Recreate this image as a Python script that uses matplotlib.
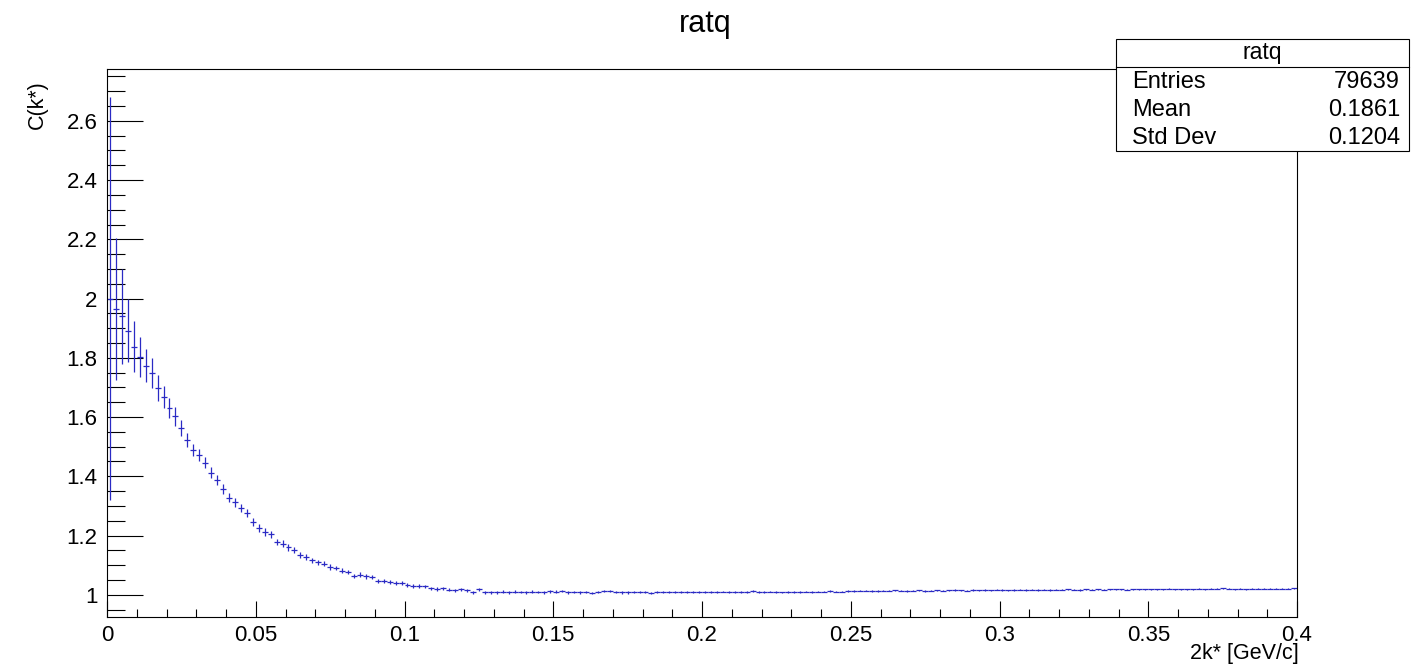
import numpy as np
import matplotlib
matplotlib.use('Agg')
import matplotlib.pyplot as plt
from matplotlib.patches import Rectangle
from matplotlib.lines import Line2D

#histogram ratq, 200 bins from 0 to 0.4
nbins = 200
kmin = 0.0
kmax = 0.4

ratq = [
	2.000, 1.965, 1.940, 1.892, 1.837, 1.803, 1.774, 1.749, 1.698, 1.667,
	1.630, 1.602, 1.563, 1.523, 1.488, 1.473, 1.446, 1.412, 1.388, 1.357,
	1.328, 1.312, 1.293, 1.276, 1.245, 1.225, 1.212, 1.204, 1.179, 1.173,
	1.160, 1.152, 1.135, 1.127, 1.116, 1.110, 1.105, 1.094, 1.090, 1.081,
	1.077, 1.064, 1.068, 1.062, 1.059, 1.047, 1.046, 1.044, 1.040, 1.040,
	1.033, 1.030, 1.030, 1.028, 1.022, 1.020, 1.022, 1.017, 1.015, 1.019,
	1.015, 1.009, 1.019, 1.009, 1.009, 1.009, 1.010, 1.008, 1.011, 1.009,
	1.008, 1.010, 1.009, 1.008, 1.012, 1.011, 1.012, 1.008, 1.009, 1.008,
	1.009, 1.007, 1.010, 1.012, 1.012, 1.009, 1.008, 1.008, 1.009, 1.008,
	1.008, 1.007, 1.008, 1.009, 1.008, 1.008, 1.009, 1.008, 1.010, 1.009,
	1.010, 1.009, 1.008, 1.011, 1.009, 1.010, 1.008, 1.010, 1.014, 1.010,
	1.009, 1.011, 1.010, 1.008, 1.010, 1.010, 1.010, 1.011, 1.010, 1.011,
	1.011, 1.012, 1.011, 1.011, 1.013, 1.013, 1.014, 1.014, 1.013, 1.012,
	1.014, 1.014, 1.015, 1.014, 1.013, 1.014, 1.015, 1.013, 1.014, 1.015,
	1.014, 1.015, 1.016, 1.015, 1.014, 1.016, 1.015, 1.016, 1.015, 1.017,
	1.016, 1.015, 1.016, 1.017, 1.016, 1.017, 1.016, 1.017, 1.016, 1.017,
	1.017, 1.018, 1.017, 1.016, 1.018, 1.017, 1.018, 1.017, 1.018, 1.019,
	1.018, 1.017, 1.018, 1.019, 1.018, 1.019, 1.018, 1.019, 1.020, 1.019,
	1.019, 1.018, 1.019, 1.020, 1.019, 1.020, 1.021, 1.022, 1.020, 1.019,
	1.020, 1.019, 1.020, 1.021, 1.020, 1.020, 1.021, 1.020, 1.021, 1.022,
]

ratq_err = [
	0.680, 0.240, 0.160, 0.105, 0.086, 0.067, 0.055, 0.050, 0.043, 0.037,
	0.034, 0.031, 0.026, 0.024, 0.021, 0.020, 0.019, 0.018, 0.017, 0.016,
	0.015, 0.015, 0.014, 0.014, 0.013, 0.013, 0.012, 0.012, 0.011, 0.011,
	0.011, 0.010, 0.010, 0.010, 0.009, 0.009, 0.009, 0.009, 0.008, 0.008,
	0.0080, 0.0078, 0.0076, 0.0074, 0.0072, 0.0070, 0.0069, 0.0067, 0.0066, 0.0064,
	0.0063, 0.0062, 0.0061, 0.0060, 0.0058, 0.0057, 0.0056, 0.0055, 0.0055, 0.0054,
	0.0053, 0.0052, 0.0051, 0.0050, 0.0050, 0.0049, 0.0048, 0.0047, 0.0047, 0.0046,
	0.0045, 0.0045, 0.0044, 0.0044, 0.0043, 0.0043, 0.0042, 0.0041, 0.0041, 0.0040,
	0.0040, 0.0040, 0.0039, 0.0039, 0.0038, 0.0038, 0.0037, 0.0037, 0.0037, 0.0036,
	0.0036, 0.0035, 0.0035, 0.0035, 0.0034, 0.0034, 0.0034, 0.0033, 0.0033, 0.0033,
	0.0032, 0.0032, 0.0032, 0.0031, 0.0031, 0.0031, 0.0031, 0.0030, 0.0030, 0.0030,
	0.0030, 0.0029, 0.0029, 0.0029, 0.0029, 0.0028, 0.0028, 0.0028, 0.0028, 0.0028,
	0.0027, 0.0027, 0.0027, 0.0027, 0.0027, 0.0026, 0.0026, 0.0026, 0.0026, 0.0026,
	0.0026, 0.0025, 0.0025, 0.0025, 0.0025, 0.0025, 0.0025, 0.0024, 0.0024, 0.0024,
	0.0024, 0.0024, 0.0024, 0.0024, 0.0023, 0.0023, 0.0023, 0.0023, 0.0023, 0.0023,
	0.0023, 0.0022, 0.0022, 0.0022, 0.0022, 0.0022, 0.0022, 0.0022, 0.0022, 0.0021,
	0.0021, 0.0021, 0.0021, 0.0021, 0.0021, 0.0021, 0.0021, 0.0021, 0.0020, 0.0020,
	0.0020, 0.0020, 0.0020, 0.0020, 0.0020, 0.0020, 0.0020, 0.0020, 0.0020, 0.0019,
	0.0019, 0.0019, 0.0019, 0.0019, 0.0019, 0.0019, 0.0019, 0.0019, 0.0019, 0.0019,
	0.0018, 0.0018, 0.0018, 0.0018, 0.0018, 0.0018, 0.0018, 0.0018, 0.0018, 0.0018,
]

#stats box text
stats_title = 'ratq'
stats_names = ['Entries', 'Mean', 'Std Dev']
stats_vals = ['79639', '0.1861', '0.1204']

xticks = [0, 0.05, 0.1, 0.15, 0.2, 0.25, 0.3, 0.35, 0.4]
yticks = [1.0, 1.2, 1.4, 1.6, 1.8, 2.0, 2.2, 2.4, 2.6]

plt.rcParams['font.family'] = ['Liberation Sans', 'DejaVu Sans']

W, H = 1411, 668
dpi = 100

def fx(x):
	return x / W

def fy(y):
	return 1. - y / H

edges = np.linspace(kmin, kmax, nbins + 1)
centers = 0.5 * (edges[1:] + edges[:-1])
halfw = 0.5 * (edges[1] - edges[0])

f = plt.figure(figsize=(W / dpi, H / dpi), dpi=dpi)
ax = f.add_axes([fx(107), fy(617), fx(1297) - fx(107), fy(69) - fy(617)])

col = '#2a2ac4'
ax.errorbar(centers, ratq, xerr=halfw, yerr=ratq_err, fmt='none',
			ecolor=col, elinewidth=0.9, capsize=0)

ax.set_xlim(kmin, kmax)
ax.set_ylim(0.925, 2.775)

ax.set_xticks(xticks)
ax.set_xticklabels(['%g' % t for t in xticks])
ax.set_xticks(np.arange(0, 0.4001, 0.01), minor=True)
ax.set_yticks(yticks)
ax.set_yticklabels(['%g' % t for t in yticks])
ax.set_yticks(np.arange(0.95, 2.7501, 0.05), minor=True)

ax.tick_params(axis='both', which='both', direction='in', width=0.8, labelsize=16, colors='black')
ax.tick_params(axis='x', which='major', length=11.5, pad=6)
ax.tick_params(axis='x', which='minor', length=5.8)
ax.tick_params(axis='y', which='major', length=26, pad=7)
ax.tick_params(axis='y', which='minor', length=13)
for s in ax.spines.values():
	s.set_linewidth(0.8)

#titles and labels
f.text(fx(705), fy(24), 'ratq', ha='center', va='center', fontsize=22)
f.text(fx(1299), fy(654), '2k* [GeV/c]', ha='right', va='center', fontsize=15.5)
f.text(fx(37), fy(80), 'C(k*)', ha='center', va='top', rotation=90, fontsize=15.5)

#stats box
x0, x1, y0, y1 = 1116, 1409, 39, 151
f.patches.append(Rectangle((fx(x0), fy(y1)), fx(x1) - fx(x0), fy(y0) - fy(y1),
						   transform=f.transFigure, facecolor='white', edgecolor='black',
						   linewidth=0.8, zorder=5))
f.lines.append(Line2D([fx(x0), fx(x1)], [fy(67), fy(67)], transform=f.transFigure,
					  color='black', linewidth=0.8, zorder=6))
f.text(fx(0.5 * (x0 + x1)), fy(53), stats_title, ha='center', va='center', fontsize=16.5, zorder=7)
for i, (n, v) in enumerate(zip(stats_names, stats_vals)):
	yy = 82 + 28 * i
	f.text(fx(1132), fy(yy), n, ha='left', va='center', fontsize=17, zorder=7)
	f.text(fx(1400), fy(yy), v, ha='right', va='center', fontsize=17, zorder=7)

f.savefig('out.png', dpi=dpi)
plt.close()
